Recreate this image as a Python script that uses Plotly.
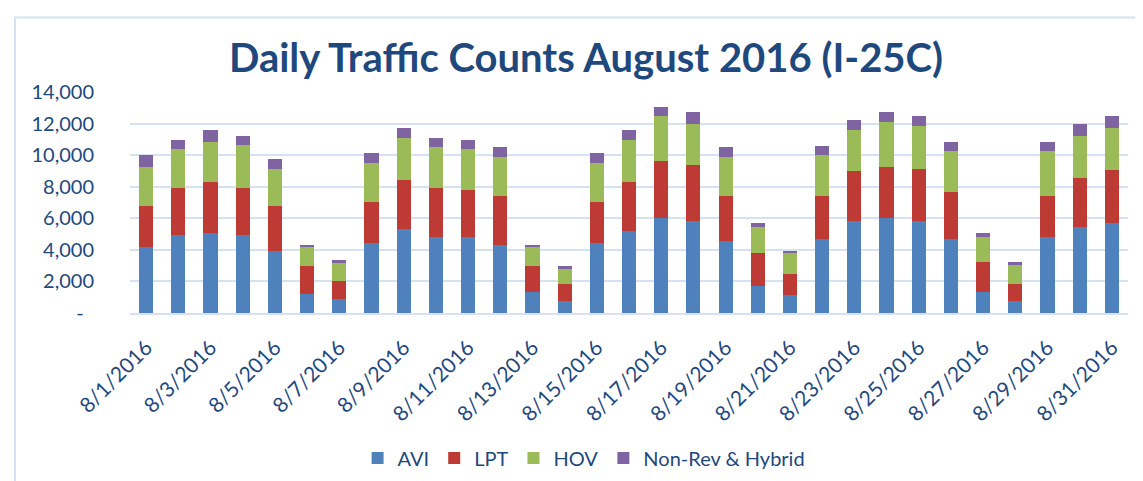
import plotly.graph_objects as go

dates = [f"8/{d}/2016" for d in range(1, 32)]
avi = [4200, 4940, 5060, 4940, 3950, 1230, 860, 4440, 5300, 4810, 4810, 4320, 1360, 740,
       4440, 5180, 6050, 5800, 4570, 1730, 1110, 4690, 5800, 6050, 5800, 4690, 1360, 740,
       4810, 5430, 5680]
lpt = [2600, 2980, 3230, 2980, 2850, 1770, 1150, 2610, 3110, 3110, 2985, 3100, 1600, 1110,
       2590, 3090, 3570, 3580, 2830, 2100, 1360, 2710, 3210, 3225, 3330, 2980, 1870, 1110,
       2610, 3105, 3350]
hov = [2450, 2450, 2570, 2700, 2330, 1200, 1200, 2450, 2690, 2570, 2575, 2450, 1240, 990,
       2470, 2710, 2840, 2590, 2470, 1600, 1360, 2600, 2590, 2815, 2720, 2570, 1580, 1235,
       2820, 2695, 2690]
nonrev = [750, 620, 740, 620, 620, 120, 120, 620, 620, 610, 610, 620, 120, 120,
          620, 620, 620, 740, 620, 250, 120, 610, 620, 620, 610, 620, 250, 125,
          620, 740, 740]

series = [("AVI", avi, "#4F81BD"), ("LPT", lpt, "#BD3A35"),
          ("HOV", hov, "#9BBB59"), ("Non-Rev & Hybrid", nonrev, "#8064A2")]

y_ticks = [0, 2000, 4000, 6000, 8000, 10000, 12000, 14000]
y_labels = ["-\u00a0\u00a0"] + [f"{v:,}" for v in y_ticks[1:]]
x_ticks = dates[::2]

TXT = "#1F497D"
FONT = "Lato, Calibri, 'Open Sans', sans-serif"

fig = go.Figure()
for name, vals, col in series:
    fig.add_trace(go.Bar(x=dates, y=vals, name=name, marker=dict(color=col, line=dict(width=0))))

fig.update_layout(
    barmode="stack", bargap=0.56,
    width=1143, height=481,
    margin=dict(l=122, r=23, t=84, b=170),
    paper_bgcolor="white", plot_bgcolor="white",
    font=dict(family=FONT, color=TXT, size=20),
    title=dict(text="<b>Daily Traffic Counts August 2016 (I-25C)</b>",
               x=578 / 1143, xanchor="center", y=1 - 50 / 481, yanchor="middle", yref="container",
               font=dict(size=40, color="#1F497D", family=FONT)),
    legend=dict(orientation="h", x=0.455, xanchor="center", y=-0.656, yanchor="middle",
                font=dict(size=20, color=TXT), itemwidth=30, traceorder="normal",
                bgcolor="rgba(0,0,0,0)"),
    xaxis=dict(type="category", tickmode="array", tickvals=x_ticks, ticktext=x_ticks,
               tickangle=-45, showgrid=False, showline=True, linecolor="#D6E2F2", linewidth=2,
               ticks="", ticklabelstandoff=12, tickfont=dict(size=21, color=TXT)),
    yaxis=dict(range=[0, 14000], tickmode="array", tickvals=y_ticks, ticktext=y_labels,
               showgrid=True, gridcolor="#D6E2F2", gridwidth=2, zeroline=False,
               ticks="", ticklabelstandoff=35, tickfont=dict(size=20, color=TXT)),
    shapes=[dict(type="rect", xref="paper", yref="paper",
                 x0=-0.1152, x1=1.03, y0=-0.79, y1=1.337,
                 line=dict(color="#D6E2F2", width=2), fillcolor="rgba(0,0,0,0)", layer="below")],
)

fig.write_html("out.html")
